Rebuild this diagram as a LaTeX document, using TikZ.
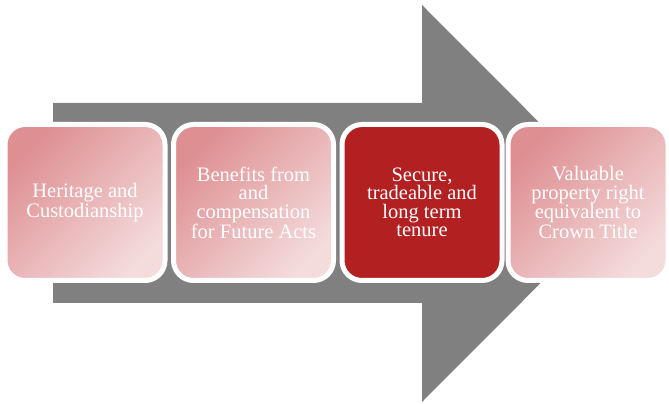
\documentclass[tikz,border=0pt]{standalone}
\usepackage{fontspec}
\setmainfont{Liberation Serif}
\definecolor{pinkA}{RGB}{222,143,146}
\definecolor{pinkB}{RGB}{244,219,220}
\definecolor{darkred}{RGB}{178,32,34}
\definecolor{arrowgray}{RGB}{128,128,128}
\tikzset{
  stagebox/.style={draw=white, line width=5pt, rounded corners=20pt,
    minimum width=160pt, minimum height=156pt, inner sep=0pt,
    align=center, text=white,
    font=\fontsize{20.5pt}{18.5pt}\selectfont},
  lightbox/.style={stagebox, top color=pinkA, bottom color=pinkB, shading angle=45},
  darkbox/.style={stagebox, fill=darkred}
}
\begin{document}
\begin{tikzpicture}[x=1pt,y=1pt]
\useasboundingbox (0,0) rectangle (669,404);
\fill[arrowgray] (53,301) -- (422,301) -- (422,399) -- (620,200.5) -- (422,2) -- (422,101) -- (53,101) -- cycle;
\node[lightbox] (b1) at (85,201.5) {Heritage and\\Custodianship};
\node[lightbox] (b2) at (253.5,201.5) {Benefits from\\and\\compensation\\for Future Acts};
\node[darkbox]  (b3) at (422,201.5) {Secure,\\tradeable and\\long term\\tenure};
\node[lightbox] (b4) at (588,201.5) {Valuable\\property right\\equivalent to\\Crown Title};
\end{tikzpicture}
\end{document}
